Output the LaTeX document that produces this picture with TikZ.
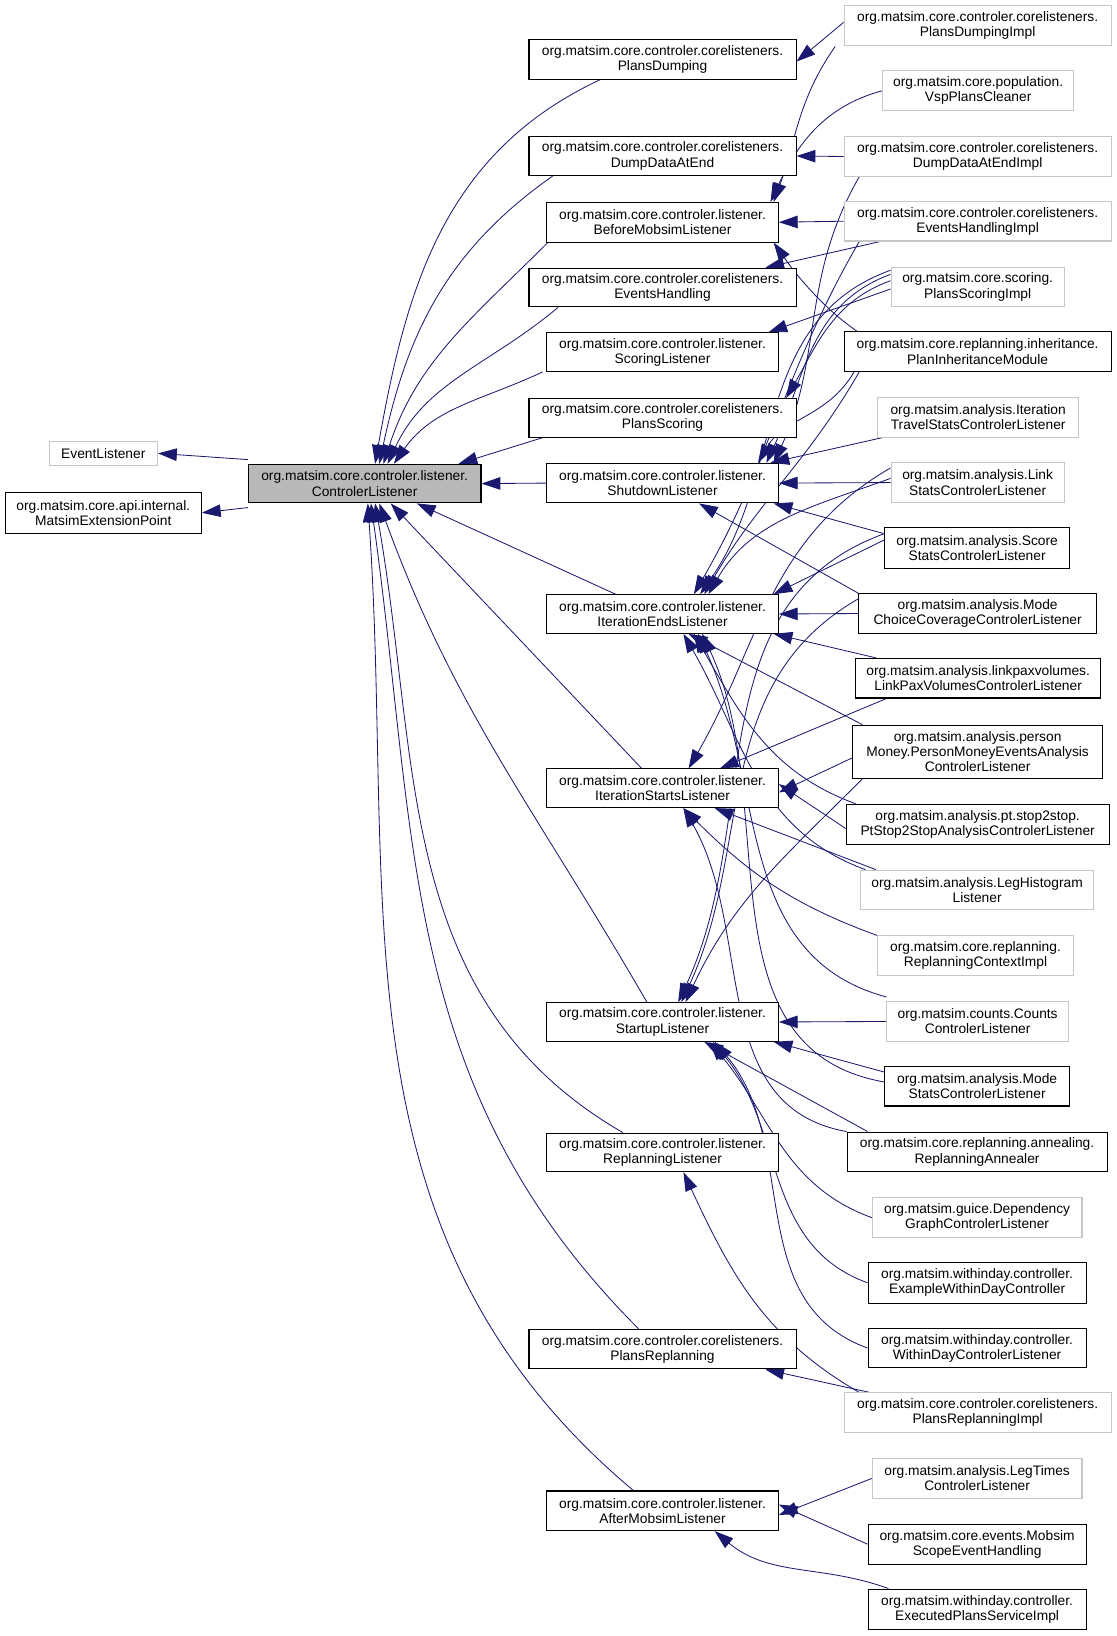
\documentclass[tikz,border=0pt]{standalone}
\usepackage{fontspec}
\setmainfont{Liberation Sans}
\usetikzlibrary{arrows.meta}
\definecolor{eb}{HTML}{191970}
\pgfdeclarelayer{bg}\pgfsetlayers{bg,main}
\tikzset{
 box/.style={draw=black,line width=1pt,fill=white,inner sep=0pt,align=center,font=\fontsize{13.2}{14.5}\selectfont},
 gbox/.style={box,draw=gray!45},
 e/.style={draw=eb,line width=0.8pt,-{Triangle[length=18pt,width=12pt,fill=eb]}}
}
\newcommand\nd[7]{\node[#6,minimum width={#4-#2},minimum height={#5-#3}] (#1) at ({(#2+#4)/2},{(#3+#5)/2}) {#7};}
\begin{document}
\begin{tikzpicture}[x=1pt,y=-1pt]
\useasboundingbox (0,0) rectangle (1070,1568);
\nd{el}{47}{423}{151}{446}{gbox}{EventListener}
\nd{mep}{5}{472}{193}{511}{box}{org.matsim.core.api.internal.\\MatsimExtensionPoint}
\nd{cl}{238}{445}{461}{482}{box,fill=gray!55}{org.matsim.core.controler.listener.\\ControlerListener}
\nd{pd}{507}{38}{763}{76}{box}{org.matsim.core.controler.corelisteners.\\PlansDumping}
\nd{dd}{507}{131}{763}{168}{box}{org.matsim.core.controler.corelisteners.\\DumpDataAtEnd}
\nd{bm}{524}{194}{746}{232}{box}{org.matsim.core.controler.listener.\\BeforeMobsimListener}
\nd{eh}{507}{257}{763}{294}{box}{org.matsim.core.controler.corelisteners.\\EventsHandling}
\nd{sl}{524}{319}{746}{356}{box}{org.matsim.core.controler.listener.\\ScoringListener}
\nd{ps}{507}{382}{763}{419}{box}{org.matsim.core.controler.corelisteners.\\PlansScoring}
\nd{sh}{524}{444}{746}{482}{box}{org.matsim.core.controler.listener.\\ShutdownListener}
\nd{ie}{524}{570}{746}{607}{box}{org.matsim.core.controler.listener.\\IterationEndsListener}
\nd{is}{524}{737}{746}{774}{box}{org.matsim.core.controler.listener.\\IterationStartsListener}
\nd{st}{524}{961}{746}{998}{box}{org.matsim.core.controler.listener.\\StartupListener}
\nd{rl}{524}{1086}{746}{1123}{box}{org.matsim.core.controler.listener.\\ReplanningListener}
\nd{prp}{507}{1274}{763}{1312}{box}{org.matsim.core.controler.corelisteners.\\PlansReplanning}
\nd{am}{524}{1429}{746}{1467}{box}{org.matsim.core.controler.listener.\\AfterMobsimListener}
\nd{pdi}{809}{5}{1065}{44}{gbox}{org.matsim.core.controler.corelisteners.\\PlansDumpingImpl}
\nd{vsp}{846}{68}{1029}{106}{gbox}{org.matsim.core.population.\\VspPlansCleaner}
\nd{ddi}{809}{131}{1065}{169}{gbox}{org.matsim.core.controler.corelisteners.\\DumpDataAtEndImpl}
\nd{ehi}{809}{193}{1065}{231}{gbox}{org.matsim.core.controler.corelisteners.\\EventsHandlingImpl}
\nd{psi}{854}{256}{1020}{294}{gbox}{org.matsim.core.scoring.\\PlansScoringImpl}
\nd{pim}{809}{318}{1065}{356}{box}{org.matsim.core.replanning.inheritance.\\PlanInheritanceModule}
\nd{its}{841}{381}{1034}{419}{gbox}{org.matsim.analysis.Iteration\\TravelStatsControlerListener}
\nd{ls}{854}{443}{1020}{482}{gbox}{org.matsim.analysis.Link\\StatsControlerListener}
\nd{ss}{848}{506}{1025}{545}{box}{org.matsim.analysis.Score\\StatsControlerListener}
\nd{mcc}{823}{569}{1051}{607}{box}{org.matsim.analysis.Mode\\ChoiceCoverageControlerListener}
\nd{lpv}{820}{631}{1055}{669}{box}{org.matsim.analysis.linkpaxvolumes.\\LinkPaxVolumesControlerListener}
\nd{pm}{817}{695}{1057}{746}{box}{org.matsim.analysis.person\\Money.PersonMoneyEventsAnalysis\\ControlerListener}
\nd{pt}{811}{771}{1063}{809}{box}{org.matsim.analysis.pt.stop2stop.\\PtStop2StopAnalysisControlerListener}
\nd{lh}{825}{834}{1048}{872}{gbox}{org.matsim.analysis.LegHistogram\\Listener}
\nd{rci}{841}{897}{1029}{935}{gbox}{org.matsim.core.replanning.\\ReplanningContextImpl}
\nd{cc}{850}{960}{1024}{998}{gbox}{org.matsim.counts.Counts\\ControlerListener}
\nd{ms}{848}{1022}{1025}{1060}{box}{org.matsim.analysis.Mode\\StatsControlerListener}
\nd{ra}{812}{1085}{1061}{1123}{box}{org.matsim.core.replanning.annealing.\\ReplanningAnnealer}
\nd{dg}{836}{1148}{1037}{1186}{gbox}{org.matsim.guice.Dependency\\GraphControlerListener}
\nd{ewd}{832}{1210}{1041}{1249}{box}{org.matsim.withinday.controller.\\ExampleWithinDayController}
\nd{wdc}{832}{1273}{1041}{1311}{box}{org.matsim.withinday.controller.\\WithinDayControlerListener}
\nd{pri}{809}{1335}{1065}{1373}{gbox}{org.matsim.core.controler.corelisteners.\\PlansReplanningImpl}
\nd{lt}{836}{1398}{1037}{1436}{gbox}{org.matsim.analysis.LegTimes\\ControlerListener}
\nd{mse}{832}{1461}{1041}{1499}{box}{org.matsim.core.events.Mobsim\\ScopeEventHandling}
\nd{epi}{832}{1523}{1041}{1562}{box}{org.matsim.withinday.controller.\\ExecutedPlansServiceImpl}
\begin{pgfonlayer}{bg}
\draw[e] ([yshift=4]cl.north west) -- (el.east);
\draw[e] ([yshift=-4]cl.south west) -- (mep.east);
\draw[e] ([xshift=-60]pd.south) to[out=205,in=80] ([xshift=10]cl.north);
\draw[e] ([xshift=-105]dd.south) to[out=215,in=78] ([xshift=14]cl.north);
\draw[e] ([xshift=-110]bm.south) to[out=225,in=72] ([xshift=18]cl.north);
\draw[e] ([xshift=-100]eh.south) to[out=220,in=65] ([xshift=22]cl.north);
\draw[e] ([xshift=-115]sl.south) to[out=205,in=55] ([xshift=28]cl.north);
\draw[e] ([xshift=-115]ps.south) -- ([xshift=90]cl.north);
\draw[e] (sh.west) -- (cl.east);
\draw[e] ([xshift=-45]ie.north) -- ([xshift=50]cl.south);
\draw[e] ([xshift=-20]is.north) -- ([xshift=25]cl.south);
\draw[e] ([xshift=-15]st.north) to[out=120,in=-70] ([xshift=14]cl.south);
\draw[e] ([xshift=-38]rl.north) to[out=150,in=-80] ([xshift=10]cl.south);
\draw[e] ([xshift=-23]prp.north) to[out=135,in=-82] ([xshift=6]cl.south);
\draw[e] ([xshift=-28]am.north) to[out=140,in=-86] ([xshift=3]cl.south);
\draw[e] ([yshift=3]pdi.west) -- ([yshift=-2]pd.east);
\draw[e] ([xshift=-8]pdi.south west) to[out=235,in=70] ([xshift=-5]bm.north east);
\draw[e] (vsp.west) to[out=195,in=65] ([xshift=-8]bm.north east);
\draw[e] (ddi.west) -- (dd.east);
\draw[e] ([xshift=15]ddi.south west) to[out=240,in=65] ([xshift=-5]sh.north east);
\draw[e] (ehi.west) -- (bm.east);
\draw[e] ([xshift=35]ehi.south west) -- ([xshift=-30]eh.north east);
\draw[e] ([xshift=15]ehi.south west) to[out=240,in=60] ([xshift=30]ie.north);
\draw[e] ([yshift=-2]psi.west) -- ([xshift=-10]sl.north east);
\draw[e] ([yshift=6]psi.west) to[out=200,in=60] ([xshift=-10]ps.north east);
\draw[e] ([yshift=12]psi.west) to[out=200,in=65] ([xshift=-12]sh.north east);
\draw[e] ([yshift=16]psi.west) to[out=200,in=55] ([xshift=36]ie.north);
\draw[e] ([xshift=-20]pim.north) to[out=230,in=-55] ([xshift=-5]bm.south east);
\draw[e] ([xshift=10]pim.south west) to[out=240,in=60] ([xshift=-20]sh.north east);
\draw[e] ([xshift=15]pim.south west) to[out=240,in=60] ([xshift=40]ie.north);
\draw[e] ([xshift=5]its.south west) -- ([xshift=-8]sh.north east);
\draw[e] (ls.west) -- (sh.east);
\draw[e] ([yshift=4]ls.west) to[out=200,in=60] ([xshift=44]ie.north);
\draw[e] ([yshift=14]ls.west) to[out=210,in=60] ([xshift=25]is.north);
\draw[e] ([yshift=-6]ss.north west) -- ([xshift=-5]sh.south east);
\draw[e] ([yshift=8]ss.west) -- ([xshift=-5]ie.north east);
\draw[e] ([yshift=14]ss.west) to[out=200,in=65] ([xshift=15]st.north);
\draw[e] (mcc.west) -- (ie.east);
\draw[e] (mcc.north west) -- ([xshift=35]sh.south);
\draw[e] ([yshift=14]mcc.west) to[out=210,in=65] ([xshift=18]st.north);
\draw[e] ([xshift=20]lpv.north west) -- ([xshift=-5]ie.south east);
\draw[e] ([xshift=30]lpv.south west) -- ([xshift=55]is.north);
\draw[e] ([xshift=10]pm.north west) -- ([xshift=25]ie.south);
\draw[e] ([yshift=-6]pm.west) -- ([yshift=-4]is.east);
\draw[e] ([xshift=10]pm.south west) to[out=225,in=65] ([xshift=22]st.north);
\draw[e] ([yshift=-4]pt.west) -- ([yshift=4]is.east);
\draw[e] ([xshift=10]pt.north west) to[out=160,in=-60] ([xshift=30]ie.south);
\draw[e] ([xshift=15]lh.north west) -- ([xshift=50]is.south);
\draw[e] ([xshift=5]lh.north west) to[out=160,in=-60] ([xshift=20]ie.south);
\draw[e] (rci.north west) to[out=160,in=-45] ([xshift=20]is.south);
\draw[e] (cc.west) -- (st.east);
\draw[e] ([yshift=4]cc.north west) to[out=165,in=-65] ([xshift=34]ie.south);
\draw[e] ([yshift=-6]ms.north west) -- ([xshift=-5]st.south east);
\draw[e] ([yshift=4]ms.west) to[out=170,in=-65] ([xshift=38]ie.south);
\draw[e] ([xshift=20]ra.north west) -- ([xshift=40]st.south);
\draw[e] (ra.north west) to[out=170,in=-60] ([xshift=20]is.south);
\draw[e] (dg.west) to[out=160,in=-50] ([xshift=45]st.south);
\draw[e] (ewd.west) to[out=160,in=-50] ([xshift=48]st.south);
\draw[e] (wdc.west) to[out=160,in=-50] ([xshift=50]st.south);
\draw[e] ([xshift=25]pri.north west) -- ([xshift=-30]prp.south east);
\draw[e] ([xshift=15]pri.north west) to[out=150,in=-65] ([xshift=20]rl.south);
\draw[e] (lt.west) -- ([yshift=-4]am.east);
\draw[e] (mse.west) -- ([yshift=6]am.east);
\draw[e] ([xshift=20]epi.north west) to[out=160,in=-40] ([xshift=50]am.south);
\end{pgfonlayer}
\end{tikzpicture}
\end{document}
